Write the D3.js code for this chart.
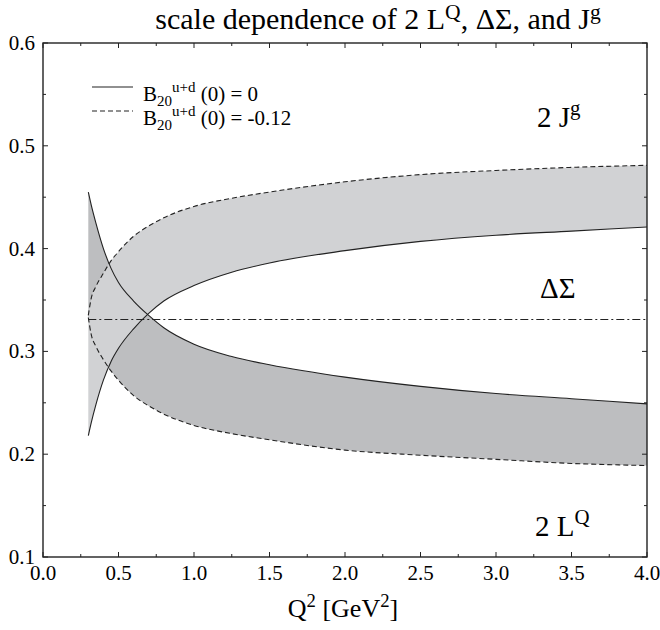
<!DOCTYPE html>
<html>
<head>
<meta charset="utf-8">
<script src="https://cdn.jsdelivr.net/npm/d3@7"></script>
<style>
  body { margin: 0; background: #fff; }
  svg { display: block; font-family: "Liberation Serif", "DejaVu Serif", serif; }
</style>
</head>
<body>
<svg width="660" height="630"></svg>
<script>
// Q^2 grid [GeV^2]
const q2   = [0.30, 0.32, 0.35, 0.40, 0.45, 0.50, 0.60, 0.70, 0.80, 1.00, 1.25, 1.50, 2.00, 2.50, 3.00, 3.50, 4.00];
// 2 J^g, B20(0) = 0 (solid) and B20(0) = -0.12 (dashed)
const jg0  = [0.218, 0.231, 0.248, 0.272, 0.290, 0.303, 0.322, 0.337, 0.349, 0.364, 0.377, 0.386, 0.398, 0.407, 0.413, 0.417, 0.421];
const jgB  = [0.335, 0.352, 0.363, 0.376, 0.388, 0.397, 0.412, 0.422, 0.430, 0.441, 0.449, 0.455, 0.465, 0.472, 0.476, 0.479, 0.481];
// 2 L^Q, same two cases
const lq0  = [0.455, 0.442, 0.425, 0.400, 0.381, 0.367, 0.349, 0.335, 0.323, 0.307, 0.295, 0.287, 0.275, 0.266, 0.259, 0.254, 0.249];
const lqB  = [0.333, 0.316, 0.305, 0.292, 0.281, 0.272, 0.257, 0.247, 0.239, 0.228, 0.220, 0.214, 0.204, 0.199, 0.195, 0.191, 0.189];
// Delta Sigma, constant
const dSigma = 0.331;

const xMajor = [0, 0.5, 1, 1.5, 2, 2.5, 3, 3.5, 4];
const xMinor = [0.25, 0.75, 1.25, 1.75, 2.25, 2.75, 3.25, 3.75];
const xLabels = ["0.0", "0.5", "1.0", "1.5", "2.0", "2.5", "3.0", "3.5", "4.0"];
const yMajor = [0.1, 0.2, 0.3, 0.4, 0.5, 0.6];
const yMinor = [0.15, 0.25, 0.35, 0.45, 0.55];
const yLabels = ["0.1", "0.2", "0.3", "0.4", "0.5", "0.6"];

const svg = d3.select("svg");
const pLeft = 43, pRight = 647, pTop = 43, pBottom = 557;

const x = d3.scaleLinear().domain([0, 4]).range([pLeft, pRight]);
const y = d3.scaleLinear().domain([0.1, 0.6]).range([pBottom, pTop]);

const pts = arr => q2.map((q, i) => [q, arr[i]]);

const line = d3.line()
  .x(d => x(d[0])).y(d => y(d[1]))
  .curve(d3.curveMonotoneX);

const band = (lo, hi) => d3.area()
  .x((d, i) => x(q2[i]))
  .y0((d, i) => y(lo[i]))
  .y1((d, i) => y(hi[i]))
  .curve(d3.curveMonotoneX)(q2);

// bands: L^Q (darker) first, J^g (lighter) on top
svg.append("path").attr("d", band(lqB, lq0)).attr("fill", "#bdbec0");
svg.append("path").attr("d", band(jg0, jgB)).attr("fill", "#d1d2d4");

const curves = [
  { data: jg0, dash: null },
  { data: lq0, dash: null },
  { data: jgB, dash: "5,3" },
  { data: lqB, dash: "5,3" }
];
curves.forEach(c => {
  svg.append("path")
    .attr("d", line(pts(c.data)))
    .attr("fill", "none")
    .attr("stroke", "#222")
    .attr("stroke-width", 1.1)
    .attr("stroke-dasharray", c.dash);
});

// Delta Sigma line
svg.append("line")
  .attr("x1", x(q2[0])).attr("x2", x(4))
  .attr("y1", y(dSigma)).attr("y2", y(dSigma))
  .attr("stroke", "#222").attr("stroke-width", 1.1)
  .attr("stroke-dasharray", "8,3,2,3");

// frame
svg.append("rect")
  .attr("x", pLeft).attr("y", pTop)
  .attr("width", pRight - pLeft).attr("height", pBottom - pTop)
  .attr("fill", "none").attr("stroke", "#222").attr("stroke-width", 1.4);

// ticks on all sides, pointing inward
const tick = (x1, y1, x2, y2) => svg.append("line")
  .attr("x1", x1).attr("y1", y1).attr("x2", x2).attr("y2", y2)
  .attr("stroke", "#222").attr("stroke-width", 1);

xMajor.forEach(v => { tick(x(v), pBottom, x(v), pBottom - 5); tick(x(v), pTop, x(v), pTop + 5); });
xMinor.forEach(v => { tick(x(v), pBottom, x(v), pBottom - 3); tick(x(v), pTop, x(v), pTop + 3); });
yMajor.forEach(v => { tick(pLeft, y(v), pLeft + 5, y(v)); tick(pRight, y(v), pRight - 5, y(v)); });
yMinor.forEach(v => { tick(pLeft, y(v), pLeft + 3, y(v)); tick(pRight, y(v), pRight - 3, y(v)); });

// tick labels
svg.selectAll(".xl").data(xMajor).join("text")
  .attr("x", d => x(d)).attr("y", 580)
  .attr("text-anchor", "middle").attr("font-size", 21)
  .text((d, i) => xLabels[i]);

svg.selectAll(".yl").data(yMajor).join("text")
  .attr("x", 35).attr("y", d => y(d) + 7)
  .attr("text-anchor", "end").attr("font-size", 21)
  .text((d, i) => yLabels[i]);

// text with sup parts: [text, isSup]
function rich(xp, yp, parts, size, anchor, lift) {
  const t = svg.append("text").attr("x", xp).attr("y", yp)
    .attr("font-size", size).attr("text-anchor", anchor || "start");
  const up = -size * (lift || 0.4);
  let cur = 0;
  parts.forEach(([s, sup]) => {
    const off = sup ? up : 0;
    t.append("tspan")
      .attr("dy", off - cur)
      .attr("font-size", sup ? size * 0.72 : size)
      .text(s);
    cur = off;
  });
  return t;
}

// title
rich(378, 29, [["scale dependence of 2 L", 0], ["Q", 1], [", ΔΣ, and J", 0], ["g", 1]], 30, "middle", 0.32);

// axis title
rich(343, 617, [["Q", 0], ["2", 1], [" [GeV", 0], ["2", 1], ["]", 0]], 26, "middle");

// curve labels
rich(537, 127, [["2 J", 0], ["g", 1]], 29);
svg.append("text").attr("x", 540).attr("y", 298).attr("font-size", 29).text("ΔΣ");
rich(535, 536, [["2 L", 0], ["Q", 1]], 29);

// legend
const legend = [
  { dash: null, text: " (0) = 0" },
  { dash: "5,3", text: " (0) = -0.12" }
];
legend.forEach((d, i) => {
  const ly = 87 + i * 24;
  svg.append("line")
    .attr("x1", 92).attr("x2", 133).attr("y1", ly).attr("y2", ly)
    .attr("stroke", "#222").attr("stroke-width", 1.1)
    .attr("stroke-dasharray", d.dash);
  const t = svg.append("text").attr("x", 143).attr("y", ly + 14).attr("font-size", 21);
  t.append("tspan").text("B");
  t.append("tspan").attr("dy", 5).attr("font-size", 15).text("20");
  t.append("tspan").attr("dy", -14).attr("font-size", 15).text("u+d");
  t.append("tspan").attr("dy", 9).text(d.text);
});
</script>
</body>
</html>
